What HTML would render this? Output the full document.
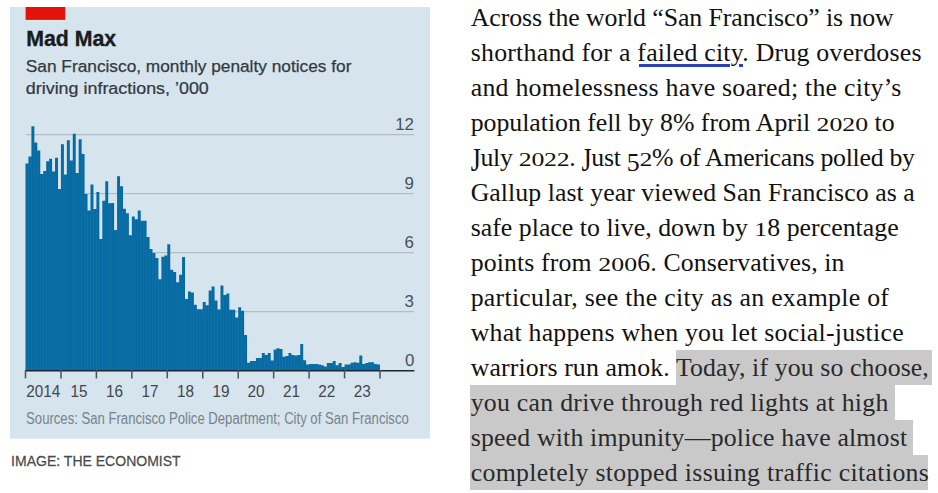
<!DOCTYPE html>
<html><head><meta charset="utf-8"><style>
html,body{margin:0;padding:0;background:#fff;width:938px;height:493px;overflow:hidden;position:relative}
svg{position:absolute;left:0;top:0}
.ln{position:absolute;left:470.7px;height:35px;line-height:35px;font-family:"Liberation Serif",serif;font-size:25.8px;color:#111;white-space:nowrap}
.hl{color:#2a2a2a}
.ox{display:inline-block;line-height:25px;transform:scaleY(0.69);transform-origin:50% 21.2px}
.oj{display:inline-block;line-height:25px;transform:scaleY(1.3);transform-origin:50% 3.6px}
.od{display:inline-block;line-height:25px;transform:translateY(5.2px) scaleY(0.98);transform-origin:50% 21.2px}
</style></head><body>
<svg width="938" height="493" viewBox="0 0 938 493" font-family="Liberation Sans, sans-serif">
<rect x="10" y="7" width="420" height="431.7" fill="#d6e4ed"/>
<rect x="25.6" y="7" width="39.6" height="12.9" fill="#e3120b"/>
<text transform="translate(26.2 45.7) scale(1.0 1)" font-size="21.3" font-weight="bold" fill="#181c20" stroke="#181c20" stroke-width="0.35">Mad Max</text>
<text transform="translate(25.8 71.7) scale(1.0 1)" font-size="17.3" fill="#33393e" stroke="#33393e" stroke-width="0.25">San Francisco, monthly penalty notices for</text>
<text transform="translate(25.8 94.2) scale(1.035 1)" font-size="17.3" fill="#33393e" stroke="#33393e" stroke-width="0.25">driving infractions, ’000</text>
<g stroke="#b1bec5" stroke-width="1.1"><line x1="26" y1="134.6" x2="413.8" y2="134.6"/><line x1="26" y1="193.6" x2="413.8" y2="193.6"/><line x1="26" y1="252.6" x2="413.8" y2="252.6"/><line x1="26" y1="311.6" x2="413.8" y2="311.6"/></g>
<path fill="#076ba3" d="M25.50 163.6H28.45V370.6H25.50ZM28.45 156.5H31.41V370.6H28.45ZM31.41 126.3H34.36V370.6H31.41ZM34.36 142.5H37.32V370.6H34.36ZM37.32 150.6H40.27V370.6H37.32ZM40.27 174.0H43.22V370.6H40.27ZM43.23 171.0H46.18V370.6H43.23ZM46.18 161.2H49.13V370.6H46.18ZM49.13 158.7H52.09V370.6H49.13ZM52.09 171.5H55.04V370.6H52.09ZM55.04 157.8H58.00V370.6H55.04ZM58.00 188.9H60.95V370.6H58.00ZM60.95 144.3H63.90V370.6H60.95ZM63.90 174.6H66.86V370.6H63.90ZM66.86 140.3H69.81V370.6H66.86ZM69.81 160.6H72.77V370.6H69.81ZM72.77 133.8H75.72V370.6H72.77ZM75.72 173.0H78.67V370.6H75.72ZM78.67 139.3H81.63V370.6H78.67ZM81.63 154.0H84.58V370.6H81.63ZM84.58 194.0H87.54V370.6H84.58ZM87.54 210.4H90.49V370.6H87.54ZM90.49 184.6H93.45V370.6H90.49ZM93.45 209.1H96.40V370.6H93.45ZM96.40 192.0H99.35V370.6H96.40ZM99.35 239.0H102.31V370.6H99.35ZM102.31 200.8H105.26V370.6H102.31ZM105.26 181.2H108.22V370.6H105.26ZM108.22 203.3H111.17V370.6H108.22ZM111.17 203.1H114.12V370.6H111.17ZM114.12 230.0H117.08V370.6H114.12ZM117.08 176.3H120.03V370.6H117.08ZM120.03 186.2H122.99V370.6H120.03ZM122.99 208.8H125.94V370.6H122.99ZM125.94 213.3H128.90V370.6H125.94ZM128.90 235.2H131.85V370.6H128.90ZM131.85 216.5H134.80V370.6H131.85ZM134.80 219.3H137.76V370.6H134.80ZM137.76 210.5H140.71V370.6H137.76ZM140.71 220.8H143.67V370.6H140.71ZM143.67 220.8H146.62V370.6H143.67ZM146.62 237.0H149.58V370.6H146.62ZM149.57 249.1H152.53V370.6H149.57ZM152.53 253.0H155.48V370.6H152.53ZM155.48 257.9H158.44V370.6H155.48ZM158.44 279.3H161.39V370.6H158.44ZM161.39 256.8H164.35V370.6H161.39ZM164.35 255.6H167.30V370.6H164.35ZM167.30 244.2H170.25V370.6H167.30ZM170.25 269.8H173.21V370.6H170.25ZM173.21 272.0H176.16V370.6H173.21ZM176.16 282.2H179.12V370.6H176.16ZM179.12 274.7H182.07V370.6H179.12ZM182.07 257.0H185.03V370.6H182.07ZM185.03 299.0H187.98V370.6H185.03ZM187.98 291.4H190.93V370.6H187.98ZM190.93 292.6H193.89V370.6H190.93ZM193.89 304.7H196.84V370.6H193.89ZM196.84 309.2H199.80V370.6H196.84ZM199.80 309.2H202.75V370.6H199.80ZM202.75 302.1H205.70V370.6H202.75ZM205.70 305.2H208.66V370.6H205.70ZM208.66 290.6H211.61V370.6H208.66ZM211.61 286.6H214.57V370.6H211.61ZM214.57 300.4H217.52V370.6H214.57ZM217.52 309.4H220.48V370.6H217.52ZM220.47 285.5H223.43V370.6H220.47ZM223.43 295.1H226.38V370.6H223.43ZM226.38 293.4H229.34V370.6H226.38ZM229.34 309.7H232.29V370.6H229.34ZM232.29 309.7H235.25V370.6H232.29ZM235.25 317.5H238.20V370.6H235.25ZM238.20 307.2H241.15V370.6H238.20ZM241.15 310.8H244.11V370.6H241.15ZM244.11 335.0H247.06V370.6H244.11ZM247.06 362.7H250.02V370.6H247.06ZM250.02 361.0H252.97V370.6H250.02ZM252.97 361.0H255.93V370.6H252.97ZM255.92 358.0H258.88V370.6H255.92ZM258.88 358.0H261.83V370.6H258.88ZM261.83 352.9H264.79V370.6H261.83ZM264.79 355.0H267.74V370.6H264.79ZM267.74 352.9H270.70V370.6H267.74ZM270.70 360.6H273.65V370.6H270.70ZM273.65 349.5H276.60V370.6H273.65ZM276.60 348.2H279.56V370.6H276.60ZM279.56 349.1H282.51V370.6H279.56ZM282.51 356.7H285.47V370.6H282.51ZM285.47 355.9H288.42V370.6H285.47ZM288.42 352.9H291.38V370.6H288.42ZM291.38 355.0H294.33V370.6H291.38ZM294.33 355.5H297.28V370.6H294.33ZM297.28 355.0H300.24V370.6H297.28ZM300.24 344.0H303.19V370.6H300.24ZM303.19 360.2H306.15V370.6H303.19ZM306.15 364.4H309.10V370.6H306.15ZM309.10 364.0H312.05V370.6H309.10ZM312.05 364.0H315.01V370.6H312.05ZM315.01 364.0H317.96V370.6H315.01ZM317.96 364.4H320.92V370.6H317.96ZM320.92 365.3H323.87V370.6H320.92ZM323.87 366.6H326.82V370.6H323.87ZM326.82 363.1H329.78V370.6H326.82ZM329.78 363.1H332.73V370.6H329.78ZM332.73 361.0H335.69V370.6H332.73ZM335.69 365.3H338.64V370.6H335.69ZM338.64 363.1H341.60V370.6H338.64ZM341.60 367.0H344.55V370.6H341.60ZM344.55 364.4H347.50V370.6H344.55ZM347.50 364.4H350.46V370.6H347.50ZM350.46 362.7H353.41V370.6H350.46ZM353.41 362.3H356.37V370.6H353.41ZM356.37 362.7H359.32V370.6H356.37ZM359.32 355.5H362.27V370.6H359.32ZM362.27 364.0H365.23V370.6H362.27ZM365.23 363.1H368.18V370.6H365.23ZM368.18 362.3H371.14V370.6H368.18ZM371.14 362.3H374.09V370.6H371.14ZM374.09 364.0H377.05V370.6H374.09ZM377.05 364.4H380.00V370.6H377.05Z"/>
<path stroke="#d6e4ed" stroke-opacity="0.1" stroke-width="0.6" d="M28.45 163.6V370.6M31.41 156.5V370.6M34.36 142.5V370.6M37.32 150.6V370.6M40.27 174.0V370.6M43.23 174.0V370.6M46.18 171.0V370.6M49.13 161.2V370.6M52.09 171.5V370.6M55.04 171.5V370.6M58.00 188.9V370.6M60.95 188.9V370.6M63.90 174.6V370.6M66.86 174.6V370.6M69.81 160.6V370.6M72.77 160.6V370.6M75.72 173.0V370.6M78.67 173.0V370.6M81.63 154.0V370.6M84.58 194.0V370.6M87.54 210.4V370.6M90.49 210.4V370.6M93.45 209.1V370.6M96.40 209.1V370.6M99.35 239.0V370.6M102.31 239.0V370.6M105.26 200.8V370.6M108.22 203.3V370.6M111.17 203.3V370.6M114.12 230.0V370.6M117.08 230.0V370.6M120.03 186.2V370.6M122.99 208.8V370.6M125.94 213.3V370.6M128.90 235.2V370.6M131.85 235.2V370.6M134.80 219.3V370.6M137.76 219.3V370.6M140.71 220.8V370.6M143.67 220.8V370.6M146.62 237.0V370.6M149.57 249.1V370.6M152.53 253.0V370.6M155.48 257.9V370.6M158.44 279.3V370.6M161.39 279.3V370.6M164.35 256.8V370.6M167.30 255.6V370.6M170.25 269.8V370.6M173.21 272.0V370.6M176.16 282.2V370.6M179.12 282.2V370.6M182.07 274.7V370.6M185.03 299.0V370.6M187.98 299.0V370.6M190.93 292.6V370.6M193.89 304.7V370.6M196.84 309.2V370.6M199.80 309.2V370.6M202.75 309.2V370.6M205.70 305.2V370.6M208.66 305.2V370.6M211.61 290.6V370.6M214.57 300.4V370.6M217.52 309.4V370.6M220.47 309.4V370.6M223.43 295.1V370.6M226.38 295.1V370.6M229.34 309.7V370.6M232.29 309.7V370.6M235.25 317.5V370.6M238.20 317.5V370.6M241.15 310.8V370.6M244.11 335.0V370.6M247.06 362.7V370.6M250.02 362.7V370.6M252.97 361.0V370.6M255.92 361.0V370.6M258.88 358.0V370.6M261.83 358.0V370.6M264.79 355.0V370.6M267.74 355.0V370.6M270.70 360.6V370.6M273.65 360.6V370.6M276.60 349.5V370.6M279.56 349.1V370.6M282.51 356.7V370.6M285.47 356.7V370.6M288.42 355.9V370.6M291.38 355.0V370.6M294.33 355.5V370.6M297.28 355.5V370.6M300.24 355.0V370.6M303.19 360.2V370.6M306.15 364.4V370.6M309.10 364.4V370.6M312.05 364.0V370.6M315.01 364.0V370.6M317.96 364.4V370.6M320.92 365.3V370.6M323.87 366.6V370.6M326.82 366.6V370.6M329.78 363.1V370.6M332.73 363.1V370.6M335.69 365.3V370.6M338.64 365.3V370.6M341.60 367.0V370.6M344.55 367.0V370.6M347.50 364.4V370.6M350.46 364.4V370.6M353.41 362.7V370.6M356.37 362.7V370.6M359.32 362.7V370.6M362.27 364.0V370.6M365.23 364.0V370.6M368.18 363.1V370.6M371.14 362.3V370.6M374.09 364.0V370.6M377.05 364.4V370.6"/>
<line x1="25" y1="370.7" x2="414.4" y2="370.7" stroke="#1a2730" stroke-width="1.6"/>
<g stroke="#46535b" stroke-width="1.5"><line x1="25.50" y1="370" x2="25.50" y2="378.4"/><line x1="60.95" y1="370" x2="60.95" y2="378.4"/><line x1="96.40" y1="370" x2="96.40" y2="378.4"/><line x1="131.85" y1="370" x2="131.85" y2="378.4"/><line x1="167.30" y1="370" x2="167.30" y2="378.4"/><line x1="202.75" y1="370" x2="202.75" y2="378.4"/><line x1="238.20" y1="370" x2="238.20" y2="378.4"/><line x1="273.65" y1="370" x2="273.65" y2="378.4"/><line x1="309.10" y1="370" x2="309.10" y2="378.4"/><line x1="344.55" y1="370" x2="344.55" y2="378.4"/><line x1="380.00" y1="370" x2="380.00" y2="378.4"/></g>
<g font-size="17.4" fill="#485056" text-anchor="end"><text transform="translate(414 130.2) scale(0.97 1)">12</text><text transform="translate(414 189.2) scale(0.97 1)">9</text><text transform="translate(414 248.2) scale(0.97 1)">6</text><text transform="translate(414 307.2) scale(0.97 1)">3</text><text transform="translate(414.4 366.2) scale(0.97 1)">0</text></g>
<g font-size="17" fill="#40484e" text-anchor="middle"><text transform="translate(43.23 396.7) scale(0.9 1)" x="0" y="0">2014</text><text transform="translate(79.08 396.7) scale(0.9 1)" x="0" y="0">15</text><text transform="translate(114.53 396.7) scale(0.9 1)" x="0" y="0">16</text><text transform="translate(149.97 396.7) scale(0.9 1)" x="0" y="0">17</text><text transform="translate(185.43 396.7) scale(0.9 1)" x="0" y="0">18</text><text transform="translate(220.88 396.7) scale(0.9 1)" x="0" y="0">19</text><text transform="translate(255.92 396.7) scale(0.9 1)" x="0" y="0">20</text><text transform="translate(291.38 396.7) scale(0.9 1)" x="0" y="0">21</text><text transform="translate(326.82 396.7) scale(0.9 1)" x="0" y="0">22</text><text transform="translate(362.27 396.7) scale(0.9 1)" x="0" y="0">23</text></g>
<text transform="translate(26.1 423.6) scale(0.82 1)" font-size="16" fill="#77838a">Sources: San Francisco Police Department; City of San Francisco</text>
</svg>
<div style="position:absolute;left:675.6px;top:350.2px;width:256.4px;height:34.8px;background:#c9c9c9"></div>
<div style="position:absolute;left:470.2px;top:385px;width:424.6px;height:35px;background:#c9c9c9"></div>
<div style="position:absolute;left:470.2px;top:420px;width:442.6px;height:35px;background:#c9c9c9"></div>
<div style="position:absolute;left:470.2px;top:455px;width:457.6px;height:34.5px;background:#c9c9c9"></div>
<div style="position:absolute;left:638.8px;top:63.9px;width:91.2px;height:2.8px;background:#2e40b6"></div>
<div style="position:absolute;left:739.4px;top:63.9px;width:3.4px;height:2.8px;background:#2e40b6"></div>
<div class="ln" style="top:-0.1px;letter-spacing:-0.066px">Across the world “San Francisco” is now</div>
<div class="ln" style="top:34.9px;letter-spacing:0.250px">shorthand for a failed city. Drug overdoses</div>
<div class="ln" style="top:69.9px;letter-spacing:0.256px">and homelessness have soared; the city’s</div>
<div class="ln" style="top:104.9px;letter-spacing:-0.026px">population fell by 8% from April <span class="ox">2</span><span class="ox">0</span><span class="ox">2</span><span class="ox">0</span> to</div>
<div class="ln" style="top:139.9px;letter-spacing:-0.280px"><span class="oj">J</span>uly <span class="ox">2</span><span class="ox">0</span><span class="ox">2</span><span class="ox">2</span>. <span class="oj">J</span>ust <span class="od">5</span><span class="ox">2</span>% of Americans polled by</div>
<div class="ln" style="top:174.9px;letter-spacing:0.049px">Gallup last year viewed San Francisco as a</div>
<div class="ln" style="top:209.9px;letter-spacing:0.025px">safe place to live, down by <span class="ox">1</span>8 percentage</div>
<div class="ln" style="top:244.9px;letter-spacing:0.118px">points from <span class="ox">2</span><span class="ox">0</span><span class="ox">0</span>6. Conservatives, in</div>
<div class="ln" style="top:279.9px;letter-spacing:0.275px">particular, see the city as an example of</div>
<div class="ln" style="top:314.9px;letter-spacing:0.244px">what happens when you let social-justice</div>
<div class="ln" style="top:349.9px;letter-spacing:0.119px">warriors run amok. <span class="hl">Today, if you so choose,</span></div>
<div class="ln" style="top:384.9px;letter-spacing:0.256px"><span class="hl">you can drive through red lights at high</span></div>
<div class="ln" style="top:419.9px;letter-spacing:0.176px"><span class="hl">speed with impunity—police have almost</span></div>
<div class="ln" style="top:454.9px;letter-spacing:0.337px"><span class="hl">completely stopped issuing traffic citations</span></div>

<svg width="938" height="493" viewBox="0 0 938 493" style="pointer-events:none">
<text transform="translate(11.1 465.9) scale(0.935 1)" font-family="Liberation Sans, sans-serif" font-size="15" fill="#4a4a4a" stroke="#4a4a4a" stroke-width="0.25">IMAGE: THE ECONOMIST</text>
</svg>
</body></html>
